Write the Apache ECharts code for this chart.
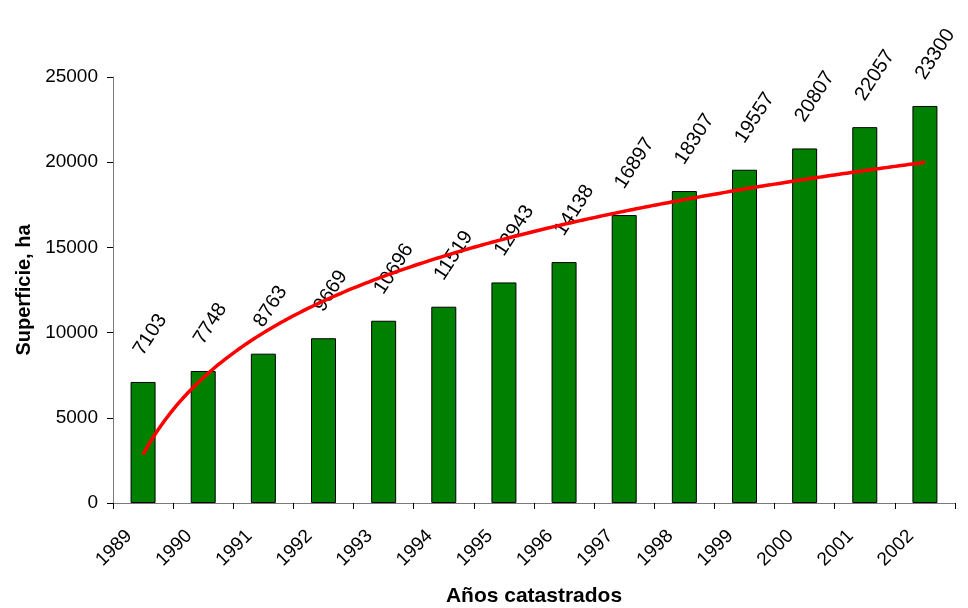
<!DOCTYPE html>
<html>
<head>
<meta charset="utf-8">
<script src="https://cdn.jsdelivr.net/npm/echarts@6/dist/echarts.min.js"></script>
<style>
  html, body { margin: 0; padding: 0; background: #fff; }
  #chart { width: 968px; height: 608px; }
</style>
</head>
<body>
<div id="chart"></div>
<script>
// Surveyed area per cadastral year
const years = ['1989', '1990', '1991', '1992', '1993', '1994', '1995',
               '1996', '1997', '1998', '1999', '2000', '2001', '2002'];
const areaHa = [7103, 7748, 8763, 9669, 10696, 11519, 12943,
                14138, 16897, 18307, 19557, 20807, 22057, 23300];
const yTicks = [0, 5000, 10000, 15000, 20000, 25000];

// Logarithmic trend line y = a*ln(x) + b, least-squares fit over x = 1..n
function logFit(values) {
  const n = values.length;
  const lx = values.map((_, i) => Math.log(i + 1));
  const mx = lx.reduce((s, v) => s + v, 0) / n;
  const my = values.reduce((s, v) => s + v, 0) / n;
  let sxy = 0, sxx = 0;
  for (let i = 0; i < n; i++) {
    sxy += (lx[i] - mx) * (values[i] - my);
    sxx += (lx[i] - mx) * (lx[i] - mx);
  }
  const a = sxy / sxx;
  return { a: a, b: my - a * mx };
}
const fit = logFit(areaHa);
const trend = [];
for (let k = 0; k <= (areaHa.length - 1) * 20; k++) {
  const x = 1 + k / 20;
  trend.push([x, fit.a * Math.log(x) + fit.b]);
}

const FONT = 'Liberation Sans, Arial, sans-serif';
const AXIS_GRAY = '#7a7a7a';

const chart = echarts.init(document.getElementById('chart'), null, { renderer: 'canvas' });
chart.setOption({
  animation: false,
  backgroundColor: '#ffffff',
  grid: {
    left: 113, right: 13, top: 77, bottom: 105,
    containLabel: false,
    outerBoundsMode: 'none'
  },
  xAxis: [
    {
      type: 'category',
      data: years,
      boundaryGap: true,
      name: 'Años catastrados',
      nameLocation: 'middle',
      nameGap: 83,
      nameTextStyle: { fontFamily: FONT, fontSize: 21, fontWeight: 'bold', color: '#000' },
      axisLine: { lineStyle: { color: AXIS_GRAY, width: 1 } },
      axisTick: { show: true, length: 6, lineStyle: { color: '#000' } },
      axisLabel: {
        rotate: 45,
        margin: 16,
        interval: 0,
        padding: [0, 20, 0, 0],
        fontFamily: FONT, fontSize: 19, color: '#000'
      },
      splitLine: { show: false }
    },
    {
      type: 'value',
      min: 0.5,
      max: areaHa.length + 0.5,
      show: false
    }
  ],
  yAxis: {
    type: 'value',
    min: yTicks[0],
    max: yTicks[yTicks.length - 1],
    interval: yTicks[1] - yTicks[0],
    name: 'Superficie, ha',
    nameLocation: 'middle',
    nameGap: 79,
    nameTextStyle: { fontFamily: FONT, fontSize: 20, fontWeight: 'bold', color: '#000' },
    axisLine: { show: true, lineStyle: { color: AXIS_GRAY, width: 1 } },
    axisTick: { show: true, length: 6, lineStyle: { color: '#000' } },
    axisLabel: {
      margin: 15,
      formatter: (v) => String(v),
      fontFamily: FONT, fontSize: 19, color: '#000'
    },
    splitLine: { show: false }
  },
  series: [
    {
      type: 'bar',
      data: areaHa,
      barWidth: 25,
      itemStyle: { color: '#008000', borderColor: '#000', borderWidth: 1 },
      label: {
        show: true,
        position: 'top',
        distance: 36,
        rotate: 57,
        align: 'left',
        verticalAlign: 'middle',
        offset: [-9, 0],
        fontFamily: FONT, fontSize: 20, color: '#000'
      },
      z: 2
    },
    {
      type: 'line',
      xAxisIndex: 1,
      data: trend,
      showSymbol: false,
      smooth: false,
      lineStyle: { color: '#ff0000', width: 3.5 },
      z: 3
    }
  ]
});
</script>
</body>
</html>
